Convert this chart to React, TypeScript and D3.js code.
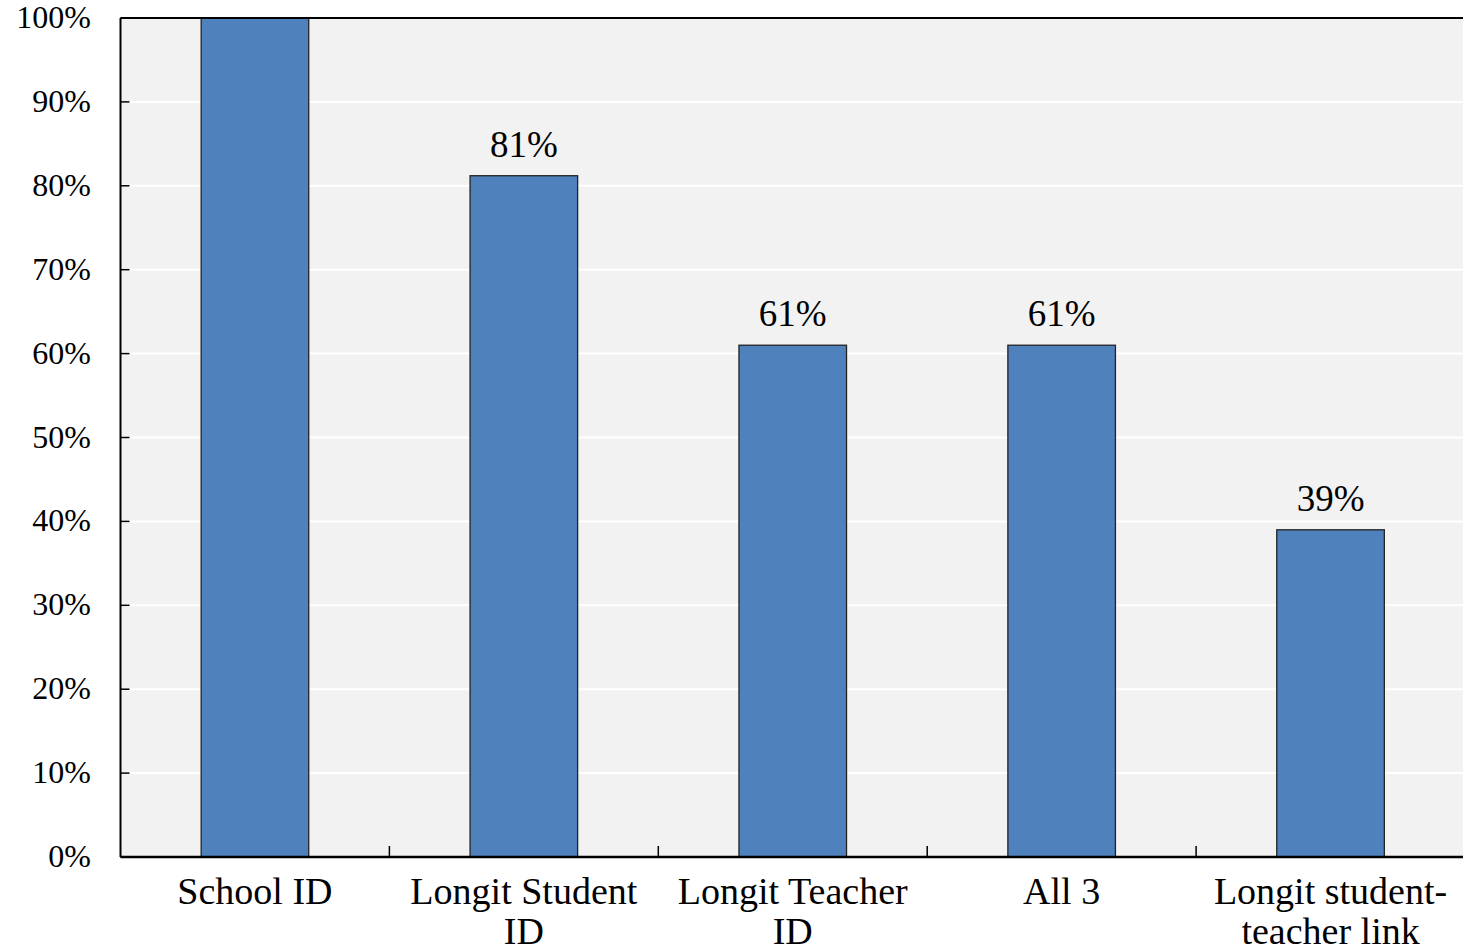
import React from "react";
import * as d3 from "d3";

const categories = ["School ID", "Longit Student\nID", "Longit Teacher\nID", "All 3", "Longit student-\nteacher link"];
const values = [100, 81.2, 61, 61, 39];
const valueLabels = ["", "81%", "61%", "61%", "39%"];
const yTicks = [0, 10, 20, 30, 40, 50, 60, 70, 80, 90, 100];

const W = 1463;
const H = 949;
const M = { left: 120.5, right: -2, top: 18, bottom: 92 };
const FONT = "'Liberation Serif', 'DejaVu Serif', serif";

export default function App() {
  const x = d3
    .scaleBand<string>()
    .domain(categories)
    .range([M.left, W - M.right])
    .paddingInner(0.6)
    .paddingOuter(0.3);
  const y = d3.scaleLinear().domain([0, 100]).range([H - M.bottom, M.top]);
  const step = x.step();
  const x0 = M.left;
  const y0 = y(0);

  return (
    <svg width={W} height={H} style={{ position: "absolute", left: 0, top: 0, background: "#fff" }}>
      <rect x={x0} y={M.top} width={W - x0} height={y0 - M.top} fill="#f2f2f2" />
      {yTicks.slice(1).map((t) => (
        <line key={"g" + t} x1={x0} x2={W} y1={y(t)} y2={y(t)} stroke="#fff" strokeWidth={2} />
      ))}
      {categories.map((c, i) => (
        <rect
          key={"b" + i}
          x={x(c)!}
          y={y(values[i])}
          width={x.bandwidth()}
          height={y0 - y(values[i])}
          fill="#4f81bd"
          stroke="#222"
          strokeWidth={1.3}
        />
      ))}
      {categories.map((c, i) =>
        valueLabels[i] ? (
          <text
            key={"v" + i}
            x={x(c)! + x.bandwidth() / 2}
            y={y(values[i]) - 19}
            textAnchor="middle"
            fontFamily={FONT}
            fontSize={37}
            fill="#000"
          >
            {valueLabels[i]}
          </text>
        ) : null
      )}
      <line x1={x0} x2={W} y1={M.top} y2={M.top} stroke="#000" strokeWidth={2} />
      <line x1={x0} x2={x0} y1={M.top} y2={y0} stroke="#000" strokeWidth={2} />
      {yTicks.map((t) => (
        <g key={"t" + t}>
          <line x1={x0} x2={x0 + 9} y1={y(t)} y2={y(t)} stroke="#000" strokeWidth={1.5} />
          <text
            x={91}
            y={y(t) + 10}
            textAnchor="end"
            fontFamily={FONT}
            fontSize={32}
            fill="#000"
          >
            {t + "%"}
          </text>
        </g>
      ))}
      <line x1={x0} x2={W} y1={y0} y2={y0} stroke="#000" strokeWidth={2.5} />
      {categories.slice(1).map((c, i) => {
        const bx = x0 + step * (i + 1);
        return <line key={"xt" + i} x1={bx} x2={bx} y1={y0} y2={y0 - 11} stroke="#000" strokeWidth={1.5} />;
      })}
      {categories.map((c, i) => {
        const cx = x(c)! + x.bandwidth() / 2;
        return (
          <text key={"c" + i} textAnchor="middle" fontFamily={FONT} fontSize={38} fill="#000">
            {c.split("\n").map((line, j) => (
              <tspan key={j} x={cx} y={904 + j * 40}>
                {line}
              </tspan>
            ))}
          </text>
        );
      })}
    </svg>
  );
}
